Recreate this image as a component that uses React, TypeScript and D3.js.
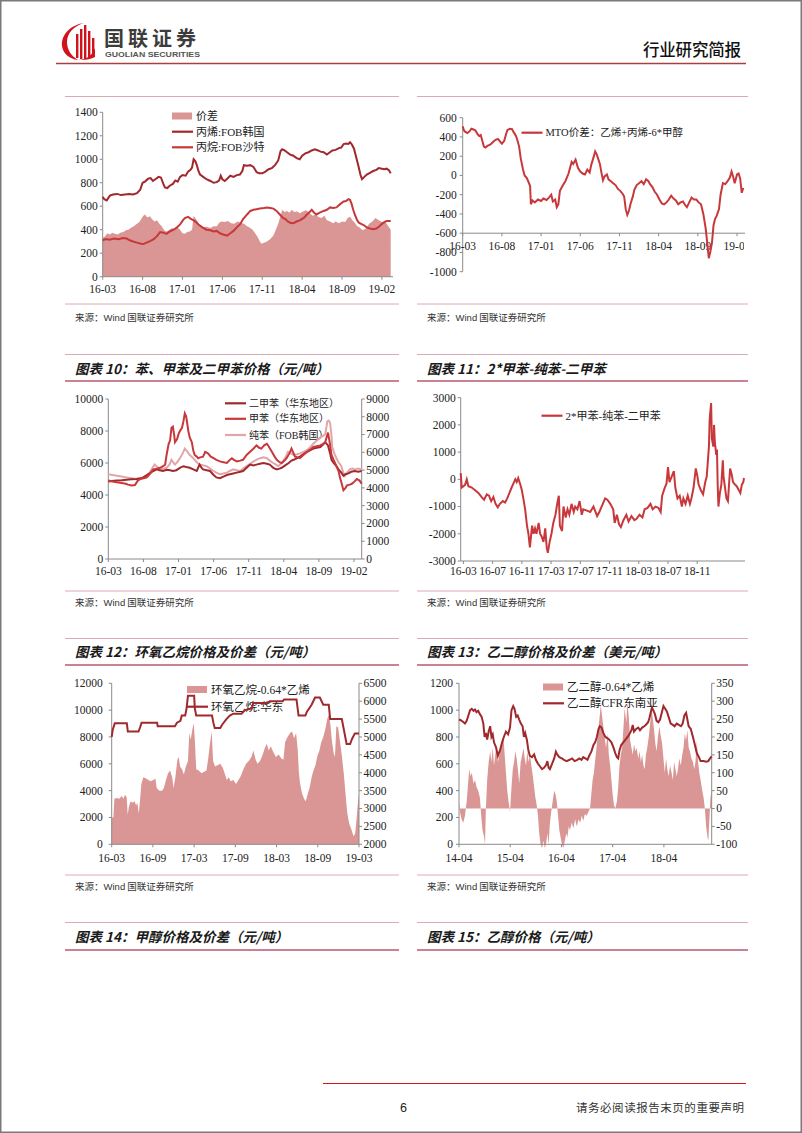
import React from 'react';
import * as d3 from 'd3';

type P = [number, number];

// ---------- Chart A: 丙烯/丙烷 (months since 16-03) ----------
const aLabels = ['16-03', '16-08', '17-01', '17-06', '17-11', '18-04', '18-09', '19-02'];
const aPropyleneKR: P[] = [[0,680],[0.2,660],[0.5,650],[0.9,690],[1.3,700],[1.8,705],[2.3,695],[2.8,700],[3.3,705],[3.8,700],[4.3,712],[4.7,740],[5.0,800],[5.3,810],[5.7,835],[6.0,840],[6.3,815],[6.6,830],[7.0,850],[7.3,845],[7.6,790],[7.8,760],[8.1,755],[8.4,775],[8.8,790],[9.1,820],[9.4,810],[9.7,850],[10.0,865],[10.4,860],[10.7,895],[11.0,910],[11.2,930],[11.4,1000],[11.6,985],[11.8,950],[12.0,900],[12.2,870],[12.6,850],[13.0,830],[13.5,815],[13.9,800],[14.3,805],[14.6,820],[14.8,860],[15.0,830],[15.3,815],[15.7,840],[16.0,860],[16.4,850],[16.8,865],[17.2,870],[17.5,900],[17.7,950],[18.1,945],[18.5,950],[18.9,935],[19.3,890],[19.6,880],[20.0,880],[20.4,895],[20.8,915],[21.2,925],[21.6,950],[22.0,990],[22.3,1070],[22.5,1085],[22.8,1075],[23.1,1060],[23.5,1040],[23.9,1030],[24.3,1010],[24.7,1000],[25.0,1030],[25.4,1050],[25.8,1060],[26.2,1075],[26.6,1085],[27.0,1075],[27.3,1065],[27.7,1060],[28.1,1040],[28.4,1055],[28.8,1075],[29.2,1080],[29.6,1095],[29.9,1100],[30.2,1130],[30.5,1135],[30.8,1130],[31.0,1145],[31.2,1130],[31.5,1090],[31.8,1010],[32.1,930],[32.3,870],[32.5,830],[32.8,850],[33.1,870],[33.5,885],[33.9,900],[34.3,910],[34.6,925],[35.0,920],[35.3,915],[35.6,920],[35.9,905],[36.1,880]];
const aPropaneSA: P[] = [[0,310],[0.4,320],[0.9,315],[1.4,325],[2.0,320],[2.5,330],[3.0,325],[3.4,310],[3.8,300],[4.3,290],[4.8,280],[5.1,278],[5.5,290],[6.0,305],[6.4,320],[6.8,345],[7.2,380],[7.6,375],[8.0,365],[8.4,385],[8.9,400],[9.3,420],[9.7,445],[10.0,475],[10.3,500],[10.7,510],[11.0,495],[11.4,480],[11.7,465],[12.0,445],[12.5,420],[13.0,400],[13.5,395],[13.9,385],[14.3,390],[14.7,370],[15.1,360],[15.6,350],[16.0,370],[16.4,390],[16.8,420],[17.2,445],[17.6,490],[18.1,530],[18.5,560],[18.9,570],[19.3,575],[19.7,580],[20.2,585],[20.6,590],[21.0,585],[21.4,580],[21.8,560],[22.2,530],[22.6,500],[22.9,490],[23.2,470],[23.5,460],[23.9,455],[24.3,470],[24.7,480],[25.2,500],[25.6,530],[26.0,555],[26.2,570],[26.5,545],[26.8,530],[27.2,545],[27.7,560],[28.1,570],[28.5,590],[28.9,585],[29.3,590],[29.8,620],[30.2,640],[30.5,645],[30.8,660],[31.0,655],[31.2,620],[31.4,570],[31.6,530],[31.9,480],[32.1,460],[32.4,450],[32.7,440],[33.1,420],[33.5,410],[33.9,405],[34.3,410],[34.7,430],[35.0,450],[35.3,465],[35.6,475],[36.1,475]];
const aSpread: P[] = [[0,330],[0.3,345],[0.6,370],[0.9,360],[1.2,375],[1.5,365],[1.9,360],[2.2,375],[2.6,380],[2.9,395],[3.2,400],[3.6,420],[3.9,430],[4.3,450],[4.6,465],[4.9,500],[5.1,520],[5.3,530],[5.6,505],[5.9,515],[6.2,490],[6.5,470],[6.8,480],[7.1,450],[7.4,430],[7.7,395],[8.0,385],[8.3,395],[8.7,415],[9.0,405],[9.4,420],[9.7,400],[10.0,370],[10.3,365],[10.6,380],[10.9,385],[11.2,400],[11.4,520],[11.6,500],[11.9,470],[12.2,430],[12.6,420],[13.0,425],[13.5,415],[13.9,430],[14.3,430],[14.6,460],[14.9,470],[15.3,465],[15.7,475],[16.1,455],[16.5,450],[16.9,470],[17.3,460],[17.7,450],[18.1,430],[18.4,420],[18.8,400],[19.1,370],[19.4,340],[19.7,300],[19.9,280],[20.2,290],[20.6,300],[21.0,320],[21.4,350],[21.7,400],[22.0,450],[22.3,520],[22.5,570],[22.8,550],[23.1,560],[23.4,545],[23.7,570],[24.0,550],[24.4,555],[24.7,540],[25.1,555],[25.5,565],[25.9,545],[26.3,520],[26.7,530],[27.0,510],[27.4,500],[27.8,520],[28.1,480],[28.5,470],[28.9,455],[29.2,470],[29.6,455],[30.0,470],[30.4,465],[30.7,500],[31.0,510],[31.3,480],[31.6,460],[31.9,430],[32.2,420],[32.6,395],[33.0,410],[33.4,450],[33.8,470],[34.2,500],[34.6,480],[35.0,465],[35.4,470],[35.8,430],[36.1,400]];

// ---------- Chart B: MTO 价差 ----------
const bLabels = ['16-03', '16-08', '17-01', '17-06', '17-11', '18-04', '18-09', '19-02'];
const bMto: P[] = [[0,510],[0.15,470],[0.3,455],[0.6,440],[0.9,460],[1.1,485],[1.3,480],[1.6,470],[1.9,430],[2.1,410],[2.3,420],[2.5,360],[2.7,300],[2.9,290],[3.2,310],[3.5,320],[3.9,350],[4.2,370],[4.5,380],[4.8,350],[5.0,330],[5.3,360],[5.5,420],[5.7,470],[6.0,485],[6.3,480],[6.5,450],[6.8,410],[7.0,360],[7.2,300],[7.4,180],[7.7,60],[7.9,0],[8.2,-30],[8.4,-70],[8.6,-110],[8.7,-300],[8.9,-260],[9.2,-280],[9.6,-250],[10.0,-265],[10.3,-240],[10.7,-255],[11.0,-230],[11.3,-200],[11.5,-270],[11.8,-250],[12.0,-330],[12.2,-300],[12.4,-160],[12.8,-100],[13.1,-60],[13.5,20],[13.7,80],[13.9,140],[14.1,120],[14.4,165],[14.7,80],[15.0,40],[15.3,20],[15.6,10],[15.9,60],[16.2,30],[16.4,110],[16.7,190],[16.9,250],[17.1,220],[17.3,170],[17.5,120],[17.7,30],[17.9,-50],[18.1,-10],[18.4,10],[18.6,-40],[18.9,-60],[19.2,-80],[19.5,-100],[19.8,-140],[20.1,-160],[20.4,-190],[20.6,-220],[20.8,-350],[21.0,-410],[21.2,-370],[21.4,-300],[21.7,-220],[21.9,-150],[22.2,-100],[22.5,-80],[22.8,-60],[23.1,-90],[23.4,-40],[23.7,-60],[23.9,-90],[24.2,-120],[24.5,-170],[24.8,-200],[25.1,-250],[25.4,-290],[25.7,-300],[26.0,-280],[26.3,-250],[26.6,-210],[26.9,-240],[27.2,-260],[27.5,-300],[27.8,-280],[28.1,-270],[28.4,-310],[28.6,-330],[28.9,-280],[29.2,-230],[29.5,-250],[29.8,-250],[30.1,-280],[30.4,-300],[30.7,-400],[31.0,-550],[31.2,-700],[31.4,-860],[31.6,-790],[31.8,-700],[32.0,-520],[32.2,-450],[32.4,-420],[32.7,-350],[32.9,-200],[33.2,-80],[33.5,-90],[33.8,-60],[34.1,-20],[34.3,40],[34.5,-10],[34.7,-80],[35.0,10],[35.2,20],[35.4,-30],[35.6,-180],[35.8,-130]];

// ---------- Chart C: 苯、甲苯、二甲苯 ----------
const cLabels = ['16-03', '16-08', '17-01', '17-06', '17-11', '18-04', '18-09', '19-02'];
const cXylene: P[] = [[0,4850],[0.5,4880],[1.2,4900],[1.9,4920],[2.6,4950],[3.3,4980],[4.0,5000],[4.6,5050],[5.0,5100],[5.5,5250],[5.9,5350],[6.4,5500],[6.9,5600],[7.3,5550],[7.8,5500],[8.3,5580],[8.8,5550],[9.2,5500],[9.7,5550],[10.2,5700],[10.7,5800],[11.1,5750],[11.6,5700],[12.1,5600],[12.6,5500],[13.0,5900],[13.3,5700],[13.5,5600],[14.0,5550],[14.5,5500],[15.0,5250],[15.4,5100],[15.9,5050],[16.4,5150],[16.9,5250],[17.3,5300],[17.8,5350],[18.3,5400],[18.8,5450],[19.2,5500],[19.7,5700],[20.2,5900],[20.7,5850],[21.1,5900],[21.6,5950],[22.1,6000],[22.6,5950],[23.0,5900],[23.5,5700],[24.0,5600],[24.4,5650],[24.7,5700],[25.2,5850],[25.7,6000],[26.1,6150],[26.4,6200],[26.9,6300],[27.3,6400],[27.8,6550],[28.3,6700],[28.8,6800],[29.2,6900],[29.7,6950],[30.2,7000],[30.6,7150],[30.9,7300],[31.1,7200],[31.3,7100],[31.6,6600],[31.8,6200],[32.1,6000],[32.5,5800],[32.8,5600],[33.2,5400],[33.5,5200],[33.8,5300],[34.2,5350],[34.6,5450],[35.1,5500],[35.6,5450],[36.1,5500]];
const cToluene: P[] = [[0,4900],[0.6,4850],[1.2,4800],[1.9,4750],[2.5,4700],[2.8,4650],[3.3,4600],[3.8,4620],[4.2,4900],[4.6,5000],[5.0,5050],[5.5,5100],[5.9,5300],[6.4,5600],[6.9,5650],[7.4,5700],[7.8,5800],[8.1,5900],[8.3,6500],[8.6,7200],[8.8,7400],[9.0,8200],[9.2,8270],[9.4,7700],[9.5,7300],[9.8,7500],[10.0,7800],[10.2,8000],[10.5,8200],[10.7,8600],[10.9,9100],[11.1,8900],[11.4,8000],[11.6,7600],[11.9,7300],[12.1,6800],[12.3,6500],[12.6,6400],[12.8,6300],[13.1,6350],[13.5,6400],[13.8,6700],[14.2,6600],[14.6,6400],[15.0,6300],[15.4,6200],[15.9,6100],[16.4,6050],[16.9,6000],[17.2,6150],[17.6,6300],[17.9,6200],[18.3,6100],[18.8,6150],[19.2,6200],[19.7,6500],[20.2,6700],[20.7,6900],[21.1,7100],[21.5,6950],[21.8,6900],[22.2,7100],[22.6,7200],[22.9,7000],[23.3,6700],[23.7,6400],[24.0,6200],[24.4,6050],[24.7,6000],[25.1,6150],[25.4,6300],[25.8,6600],[26.1,6900],[26.4,6600],[26.6,6400],[27.0,6350],[27.3,6300],[27.8,6500],[28.3,6700],[28.8,6850],[29.2,7000],[29.7,7050],[30.2,7100],[30.6,7200],[30.9,7300],[31.1,7600],[31.3,7900],[31.5,7400],[31.8,6500],[32.1,6200],[32.3,6000],[32.6,5700],[32.8,5500],[33.0,5100],[33.2,4800],[33.5,4300],[33.8,4450],[34.0,4600],[34.4,4650],[34.7,4700],[35.1,4850],[35.4,5000],[35.8,4900],[36.1,4700]];
const cBenzene: P[] = [[0,5300],[0.6,5250],[1.2,5200],[1.9,5150],[2.6,5100],[3.3,5050],[4.0,5000],[4.6,5050],[5.0,5100],[5.5,5250],[5.9,5400],[6.3,5700],[6.6,5900],[7.0,5750],[7.4,5600],[7.9,5650],[8.3,5700],[8.7,5900],[9.0,6200],[9.3,6000],[9.5,5900],[9.9,6100],[10.2,6300],[10.6,6600],[10.9,6900],[11.2,6750],[11.6,6500],[12.0,6350],[12.3,6200],[12.7,6000],[13.1,5900],[13.6,5850],[14.0,5800],[14.5,5650],[15.0,5500],[15.4,5400],[15.9,5300],[16.4,5350],[16.9,5400],[17.3,5500],[17.8,5600],[18.3,5550],[18.8,5500],[19.2,5650],[19.7,5800],[20.2,5950],[20.7,6100],[21.1,6200],[21.6,6300],[22.1,6350],[22.6,6300],[23.0,6150],[23.5,6000],[23.9,5900],[24.2,5800],[24.6,5950],[24.9,6100],[25.3,6400],[25.6,6700],[26.0,6600],[26.4,6500],[26.9,6550],[27.3,6600],[27.8,6700],[28.3,6800],[28.8,7000],[29.2,7200],[29.7,7400],[30.2,7600],[30.6,7700],[30.9,7800],[31.1,8300],[31.2,8600],[31.4,8650],[31.6,8500],[31.8,7700],[31.9,7000],[32.2,6600],[32.5,6300],[32.8,6050],[33.2,5800],[33.4,5500],[33.7,5200],[34.0,5400],[34.4,5600],[34.8,5650],[35.1,5600],[35.6,5650],[36.1,5600]];

// ---------- Chart D: 2*甲苯-纯苯-二甲苯 ----------
const dLabels = ['16-03', '16-07', '16-11', '17-03', '17-07', '17-11', '18-03', '18-07', '18-11'];
const dSpread: P[] = [[-0.37,230],[-0.23,-300],[0,-250],[0.23,-200],[0.46,0],[0.68,-250],[1.14,-300],[1.6,-400],[2.05,-500],[2.5,-650],[2.83,-750],[3.2,-550],[3.5,-600],[3.8,-800],[4.1,-650],[4.4,-900],[4.7,-1030],[5.0,-900],[5.4,-800],[5.7,-850],[6.0,-700],[6.3,-500],[6.6,-300],[6.85,-150],[7.1,0],[7.3,-100],[7.5,50],[7.8,-200],[8.0,-400],[8.2,-700],[8.45,-1100],[8.7,-1700],[8.9,-2000],[9.1,-2500],[9.4,-1700],[9.6,-2000],[9.8,-1800],[10.0,-2000],[10.3,-1600],[10.5,-2000],[10.7,-2100],[10.96,-2300],[11.2,-1800],[11.4,-2500],[11.55,-2700],[11.8,-2300],[12.05,-2000],[12.3,-1600],[12.6,-1300],[12.9,-800],[13.06,-600],[13.2,-1700],[13.5,-1900],[13.7,-1000],[14.0,-1400],[14.25,-1100],[14.5,-1300],[14.8,-900],[15.1,-1200],[15.3,-1000],[15.6,-1100],[15.9,-800],[16.2,-1300],[16.4,-1100],[16.9,-1150],[17.35,-1200],[17.8,-1000],[18.3,-1350],[18.6,-1200],[19.0,-950],[19.4,-700],[19.7,-750],[20.1,-900],[20.5,-1100],[20.7,-1600],[21.0,-1300],[21.3,-1650],[21.55,-1750],[21.9,-1500],[22.3,-1300],[22.6,-1550],[23.0,-1350],[23.4,-1500],[23.7,-1450],[24.1,-1300],[24.5,-1400],[24.8,-1100],[25.2,-1050],[25.6,-900],[25.9,-1100],[26.3,-1000],[26.7,-1050],[27.0,-1200],[27.2,-600],[27.5,-350],[27.8,-150],[28.0,450],[28.2,-100],[28.5,100],[28.8,300],[29.0,-300],[29.3,-700],[29.6,-600],[29.9,-1000],[30.1,-700],[30.4,-900],[30.7,-600],[31.0,-900],[31.2,-700],[31.5,-300],[31.8,400],[32.0,150],[32.2,-200],[32.5,-400],[32.8,-550],[33.1,-100],[33.3,100],[33.6,1200],[33.7,2200],[33.9,2800],[34.0,1500],[34.2,1200],[34.3,2000],[34.4,1400],[34.6,900],[34.7,1100],[34.8,-200],[34.9,-1000],[35.1,-500],[35.3,-200],[35.5,700],[35.6,100],[35.8,-300],[36.0,-700],[36.2,-800],[36.35,-200],[36.5,400],[36.7,200],[36.9,-100],[37.2,-200],[37.4,-250],[37.7,-400],[37.9,-500],[38.1,-200],[38.3,-100],[38.4,50]];

// ---------- Chart E: 环氧乙烷 ----------
const eLabels = ['16-03', '16-09', '17-03', '17-09', '18-03', '18-09', '19-03'];
const eSpread: P[] = [[0,2000],[0.24,2000],[0.39,3400],[0.73,3450],[1.1,3400],[1.46,3600],[1.7,3400],[1.94,3700],[2.18,3500],[2.33,2200],[2.5,2800],[2.77,3200],[3.06,3100],[3.35,3200],[3.54,2900],[3.74,3100],[3.93,2300],[4.13,3300],[4.32,4500],[4.6,5000],[5.0,4900],[5.34,4800],[5.68,4700],[6.07,4800],[6.36,4900],[6.55,4200],[6.94,4000],[7.33,4000],[7.6,4200],[7.9,4800],[8.2,5300],[8.5,5500],[8.8,5000],[9.0,4200],[9.27,5000],[9.56,6300],[9.76,6500],[9.95,5800],[10.24,5600],[10.5,5200],[10.8,5800],[11.1,6200],[11.3,8300],[11.5,7800],[11.75,8600],[11.94,9000],[12.1,7800],[12.3,5600],[12.67,5500],[13.06,5300],[13.45,5400],[13.8,5500],[14.08,6500],[14.3,7500],[14.56,8400],[14.76,6200],[15.05,5800],[15.4,5900],[15.8,6000],[16.17,5700],[16.5,5200],[16.75,4800],[17.04,5000],[17.3,4700],[17.7,4800],[18.1,4500],[18.45,4800],[18.8,5100],[19.17,5600],[19.56,6000],[19.95,6200],[20.34,6500],[20.63,7000],[20.9,6400],[21.2,6000],[21.6,6200],[21.99,6700],[22.3,7200],[22.57,7500],[22.86,7000],[23.16,7300],[23.5,6900],[23.9,6500],[24.3,6700],[24.7,6400],[25.0,6300],[25.24,7600],[25.6,8000],[25.97,8300],[26.26,8400],[26.55,7900],[26.84,8300],[27.09,7000],[27.23,5500],[27.4,4600],[27.7,3800],[28.0,3400],[28.25,3200],[28.5,3700],[28.8,4200],[29.1,5000],[29.37,5500],[29.66,5900],[29.95,6600],[30.24,7000],[30.5,7600],[30.8,8000],[31.1,8600],[31.4,9400],[31.65,9700],[31.84,8900],[32.04,7800],[32.3,6800],[32.5,6500],[32.7,8800],[32.96,8700],[33.25,7600],[33.5,6600],[33.8,5200],[34.08,3500],[34.3,2300],[34.6,1500],[34.9,1100],[35.2,600],[35.44,800],[35.63,1800],[35.83,3000],[36.0,3800]];
const ePrice: P[] = [[0,5000],[0.15,5200],[0.45,5380],[2.2,5380],[2.35,5150],[3.9,5150],[4.1,5250],[4.35,5400],[6.6,5400],[6.7,5300],[9.2,5300],[9.5,5400],[10.0,5450],[10.2,5600],[10.7,5600],[10.9,5800],[11.1,6150],[12.0,6150],[12.1,5800],[12.3,5600],[14.6,5600],[14.8,5400],[15.0,5250],[15.8,5250],[16.1,5350],[16.7,5500],[17.2,5600],[17.7,5650],[18.9,5650],[19.4,5750],[20.4,5800],[20.6,5950],[22.6,5950],[23.0,6000],[24.9,6000],[25.1,6050],[26.9,6050],[27.2,5600],[28.2,5600],[28.4,5700],[29.1,5900],[29.6,6100],[30.3,6100],[30.8,5900],[31.6,5900],[31.8,5500],[33.5,5500],[33.7,5300],[34.0,5000],[34.2,4800],[34.7,4800],[35.0,4950],[35.4,5100],[36,5100]];

// ---------- Chart F: 乙二醇 (months since 14-04) ----------
const fLabels = ['14-04', '15-04', '16-04', '17-04', '18-04'];
const fPrice: P[] = [[0,930],[0.4,925],[0.86,915],[1.4,900],[1.8,920],[2.2,960],[2.6,1000],[3.0,1010],[3.4,995],[3.75,1005],[4.1,985],[4.5,995],[4.9,970],[5.3,950],[5.7,900],[6.0,800],[6.3,830],[6.6,780],[6.95,840],[7.3,880],[7.6,800],[7.9,820],[8.2,760],[8.7,720],[9.1,660],[9.6,700],[10.1,760],[10.5,800],[11.0,840],[11.5,820],[11.95,870],[12.3,1000],[12.7,1030],[13.0,1010],[13.4,950],[13.75,960],[14.1,930],[14.5,900],[14.9,880],[15.2,800],[15.5,830],[15.9,780],[16.25,700],[16.6,660],[17.1,650],[17.6,670],[18.0,630],[18.5,600],[19.0,580],[19.45,560],[19.9,570],[20.4,590],[20.7,620],[21.0,570],[21.3,560],[21.8,600],[22.3,640],[22.7,690],[23.0,670],[23.5,650],[24.1,640],[24.6,630],[25.2,620],[25.9,630],[26.5,640],[27.1,620],[27.7,630],[28.2,640],[28.7,630],[29.1,650],[29.6,640],[30.1,630],[30.5,660],[31.0,690],[31.5,740],[31.9,760],[32.3,800],[32.7,860],[33.0,880],[33.4,870],[33.8,830],[34.3,800],[34.8,790],[35.2,780],[35.7,760],[36.2,720],[36.6,680],[37.0,650],[37.3,640],[37.6,700],[38.0,740],[38.5,760],[39.0,780],[39.5,800],[39.9,820],[40.4,850],[40.7,890],[41.0,840],[41.5,860],[42.0,870],[42.4,850],[42.9,870],[43.4,880],[43.8,890],[44.3,910],[44.6,940],[44.9,980],[45.2,1020],[45.5,1000],[45.9,970],[46.3,920],[46.7,910],[47.1,930],[47.5,980],[47.9,1030],[48.3,1010],[48.7,990],[49.1,950],[49.6,900],[50.1,890],[50.5,880],[51.0,900],[51.5,890],[52.0,880],[52.4,900],[52.8,960],[53.2,980],[53.5,930],[53.8,880],[54.3,860],[54.8,800],[55.2,750],[55.7,680],[56.2,650],[56.6,620],[57.3,620],[57.9,615],[58.4,620],[58.8,640],[59.2,655]];
const fSpread: P[] = [[0,20],[0.23,-10],[0.6,-30],[1.0,-40],[1.4,-20],[1.8,20],[2.2,80],[2.4,110],[2.7,90],[3.0,100],[3.4,70],[3.75,80],[4.1,60],[4.5,50],[4.9,30],[5.2,-20],[5.5,-60],[5.9,-80],[6.1,-100],[6.3,0],[6.6,80],[6.95,130],[7.3,160],[7.6,130],[7.9,170],[8.2,120],[8.5,150],[8.8,180],[9.1,130],[9.45,150],[9.8,170],[10.1,190],[10.4,200],[10.7,150],[11.0,100],[11.3,50],[11.6,20],[11.95,-10],[12.3,60],[12.6,110],[12.9,130],[13.2,160],[13.5,140],[13.8,110],[14.1,70],[14.45,130],[14.8,150],[15.1,170],[15.4,140],[15.7,120],[16.0,160],[16.3,130],[16.6,150],[16.95,120],[17.3,90],[17.6,60],[17.9,30],[18.2,10],[18.5,-20],[18.8,-70],[19.1,-100],[19.45,-110],[19.8,-90],[20.1,-110],[20.4,-100],[20.7,-70],[21.0,-100],[21.3,-40],[21.6,-10],[21.95,20],[22.3,50],[22.6,40],[22.9,20],[23.2,-20],[23.5,-60],[23.8,-80],[24.1,-100],[24.45,-110],[24.8,-90],[25.1,-70],[25.4,-80],[25.7,-50],[26.0,-60],[26.4,-40],[26.8,-55],[27.2,-30],[27.6,-50],[28.0,-30],[28.4,-40],[28.75,-20],[29.1,-35],[29.5,-15],[29.9,-20],[30.3,-10],[30.7,0],[31.0,40],[31.3,80],[31.6,100],[31.95,140],[32.3,180],[32.6,220],[32.9,250],[33.2,290],[33.5,260],[33.8,230],[34.1,200],[34.45,170],[34.8,210],[35.1,150],[35.4,120],[35.7,80],[36.0,40],[36.3,10],[36.6,0],[37.0,20],[37.3,60],[37.6,120],[37.9,150],[38.2,170],[38.5,220],[38.8,280],[39.2,240],[39.45,300],[39.8,250],[40.1,190],[40.4,170],[40.7,150],[41.0,180],[41.3,160],[41.6,170],[42.0,140],[42.3,160],[42.6,130],[42.9,150],[43.2,120],[43.5,110],[43.8,150],[44.1,170],[44.45,200],[44.8,240],[45.1,280],[45.4,250],[45.7,220],[46.0,180],[46.3,160],[46.6,200],[46.95,230],[47.3,200],[47.6,180],[47.9,140],[48.2,100],[48.5,140],[48.8,110],[49.1,90],[49.45,120],[49.8,100],[50.1,80],[50.4,130],[50.7,110],[51.0,90],[51.3,110],[51.6,140],[51.95,120],[52.3,150],[52.6,170],[52.9,210],[53.2,190],[53.5,220],[53.8,170],[54.1,160],[54.45,140],[54.8,130],[55.1,110],[55.4,130],[55.7,190],[56.0,130],[56.3,100],[56.6,80],[57.0,50],[57.3,30],[57.6,0],[57.9,-50],[58.2,-80],[58.4,-90],[58.7,-20],[58.9,30],[59.2,50]];

// ---------- styling ----------
const SERIF = "'Liberation Serif','Times New Roman','Noto Sans CJK SC',serif";
const CJK = "'Noto Sans CJK SC','Liberation Sans',sans-serif";
const SANS = "'Liberation Sans',Arial,'Noto Sans CJK SC',sans-serif";
const AXIS = '#8a8a8a';
const DARK = '#a0292d';
const RED = '#c8383b';
const PINK = '#e3a6a8';
const AREA = '#d99694';
const THIN = '#dcaab4';
const THICK = '#c98292';
const TICK_FS = 11.5;

const lineD = (data: P[], x: any, y: any) =>
  d3.line<P>().x(d => x(d[0])).y(d => y(d[1]))(data) || '';
const areaD = (data: P[], x: any, y: any, base: number) =>
  d3.area<P>().x(d => x(d[0])).y0(y(base)).y1(d => y(d[1]))(data) || '';

function YAxis({ scale, ticks, x, side, gap }: any) {
  const [r0, r1] = scale.range();
  const dir = side === 'left' ? -1 : 1;
  return (
    <g>
      <line x1={x} x2={x} y1={r0} y2={r1} stroke={AXIS} strokeWidth={1} />
      {ticks.map((t: number) => (
        <g key={t}>
          <line x1={x} x2={x + dir * 3} y1={scale(t)} y2={scale(t)} stroke={AXIS} />
          <text x={x + dir * gap} y={scale(t)} dy="0.34em" textAnchor={side === 'left' ? 'end' : 'start'}
            fontFamily={SERIF} fontSize={TICK_FS} fill="#222">{String(t)}</text>
        </g>
      ))}
    </g>
  );
}

function XAxis({ scale, ticks, labels, y, x0, x1, labelY, clipId }: any) {
  return (
    <g>
      <line x1={x0} x2={x1} y1={y} y2={y} stroke={AXIS} />
      {ticks.map((t: number, i: number) => (
        <line key={i} x1={scale(t)} x2={scale(t)} y1={y} y2={y + 3} stroke={AXIS} />
      ))}
      <g clipPath={clipId ? `url(#${clipId})` : undefined}>
        {ticks.map((t: number, i: number) => (
          <text key={i} x={scale(t)} y={labelY} textAnchor="middle" fontFamily={SERIF} fontSize={TICK_FS} fill="#222">{labels[i]}</text>
        ))}
      </g>
    </g>
  );
}

function Source({ x, y }: any) {
  return (
    <text x={x} y={y} fontFamily={CJK} fontSize={9.5} fill="#333">
      来源：<tspan fontFamily={SANS}>Wind</tspan> 国联证券研究所
    </text>
  );
}

function Title({ x, y, text }: any) {
  return (
    <text x={x} y={y} fontFamily={CJK} fontSize={13.5} fontWeight={700} fontStyle="italic" fill="#1a1a1a">{text}</text>
  );
}

function LegLine({ x, y, color, text, fs }: any) {
  return (
    <g>
      <line x1={x} x2={x + 21} y1={y} y2={y} stroke={color} strokeWidth={2.2} />
      <text x={x + 24} y={y} dy="0.36em" fontFamily={SERIF} fontSize={fs} fill="#222">{text}</text>
    </g>
  );
}
function LegRect({ x, y, text, fs }: any) {
  return (
    <g>
      <rect x={x} y={y - 3.5} width={20} height={7} fill={AREA} />
      <text x={x + 24} y={y} dy="0.36em" fontFamily={SERIF} fontSize={fs} fill="#222">{text}</text>
    </g>
  );
}

const range = (a: number, b: number, s: number) => d3.range(a, b + s / 2, s);

export default function App() {
  const xA = d3.scaleLinear().domain([0, 36.1]).range([102.7, 390.7]);
  const yA = d3.scaleLinear().domain([0, 1400]).range([276.7, 112.3]);
  const xB = d3.scaleLinear().domain([0, 35.8]).range([462.7, 743.3]);
  const yB = d3.scaleLinear().domain([-1000, 600]).range([271.7, 117.7]);
  const xC = d3.scaleLinear().domain([0, 36.1]).range([108.3, 361.7]);
  const yC = d3.scaleLinear().domain([0, 10000]).range([559, 399]);
  const yC2 = d3.scaleLinear().domain([0, 9000]).range([559, 399]);
  const xD = d3.scaleLinear().domain([-0.37, 38.4]).range([460.7, 744]);
  const yD = d3.scaleLinear().domain([-3000, 3000]).range([561, 397.7]);
  const xE = d3.scaleLinear().domain([0, 36]).range([111.7, 359]);
  const yE = d3.scaleLinear().domain([0, 12000]).range([844.3, 683.3]);
  const yE2 = d3.scaleLinear().domain([2000, 6500]).range([844.3, 683.3]);
  const xF = d3.scaleLinear().domain([0, 59.2]).range([459, 711.7]);
  const yF = d3.scaleLinear().domain([0, 1200]).range([844.3, 683.3]);
  const yF2 = d3.scaleLinear().domain([-100, 350]).range([844.3, 683.3]);

  const L = [65, 399];
  const R = [417, 748];

  return (
    <svg width={802} height={1133} style={{ position: 'absolute', left: 0, top: 0, background: '#fff' }}>
      <defs>
        <clipPath id="clipB"><rect x={440} y={236} width={304} height={20} /></clipPath>
      </defs>
      <rect x={0} y={0} width={802} height={1133} fill="#fff" />
      <rect x={0.75} y={0.75} width={800.5} height={1131.5} fill="none" stroke="#7a7a7a" strokeWidth={1.5} />

      {/* Header */}
      <g>
        <path d="M84,23 C70,25 61,35 62,46 C63,54 70,59 78,60 C71,56 67,49 67,42 C67,33 74,26 84,23 Z" fill="#d0121b" />
        <path d="M78,60 C86,60 93,55 95,48 L95,57 C91,59 85,60.5 78,60 Z" fill="#d0121b" />
        <rect x={76} y={34} width={2.4} height={24} fill="#d0121b" />
        <rect x={80} y={29} width={2.4} height={30} fill="#d0121b" />
        <rect x={84} y={25} width={2.4} height={34} fill="#d0121b" />
        <rect x={88} y={31} width={2.4} height={27} fill="#d0121b" />
        <rect x={92} y={38} width={2.4} height={18} fill="#d0121b" />
        <text x={104} y={46} fontFamily={CJK} fontSize={20} fontWeight={700} fill="#3c3c3c" letterSpacing={4}>国联证券</text>
        <text x={105} y={57} fontFamily={SANS} fontSize={6.3} fontWeight={700} fill="#555" textLength={95} lengthAdjust="spacingAndGlyphs">GUOLIAN SECURITIES</text>
        <text x={643} y={56} fontFamily={CJK} fontSize={16.5} fontWeight={500} fill="#111" textLength={98}>行业研究简报</text>
        <line x1={56} x2={746} y1={63.5} y2={63.5} stroke="#a8403f" strokeWidth={1.6} />
      </g>

      {/* Row separators */}
      {[L, R].map((p, i) => (
        <g key={i}>
          <line x1={p[0]} x2={p[1]} y1={96.5} y2={96.5} stroke={THIN} />
          <line x1={p[0]} x2={p[1]} y1={304} y2={304} stroke={THIN} />
          <line x1={p[0]} x2={p[1]} y1={354.5} y2={354.5} stroke={THIN} />
          <line x1={p[0]} x2={p[1]} y1={381} y2={381} stroke={THICK} strokeWidth={2} />
          <line x1={p[0]} x2={p[1]} y1={591} y2={591} stroke={THIN} />
          <line x1={p[0]} x2={p[1]} y1={638.5} y2={638.5} stroke={THIN} />
          <line x1={p[0]} x2={p[1]} y1={665} y2={665} stroke={THICK} strokeWidth={2} />
          <line x1={p[0]} x2={p[1]} y1={875} y2={875} stroke={THIN} />
          <line x1={p[0]} x2={p[1]} y1={922.5} y2={922.5} stroke={THIN} />
          <line x1={p[0]} x2={p[1]} y1={950} y2={950} stroke={THICK} strokeWidth={2} />
        </g>
      ))}
      <Source x={75} y={321} />
      <Source x={427} y={321} />
      <Source x={75} y={606} />
      <Source x={427} y={606} />
      <Source x={75} y={890} />
      <Source x={427} y={890} />
      <Title x={75} y={374} text="图表 10：苯、甲苯及二甲苯价格（元/吨）" />
      <Title x={427} y={374} text="图表 11：2*甲苯-纯苯-二甲苯" />
      <Title x={75} y={657} text="图表 12：环氧乙烷价格及价差（元/吨）" />
      <Title x={427} y={657} text="图表 13：乙二醇价格及价差（美元/吨）" />
      <Title x={75} y={942} text="图表 14：甲醇价格及价差（元/吨）" />
      <Title x={427} y={942} text="图表 15：乙醇价格（元/吨）" />

      {/* Chart A */}
      <g>
        <path d={areaD(aSpread, xA, yA, 0)} fill={AREA} />
        <YAxis scale={yA} ticks={range(0, 1400, 200)} x={102.7} side="left" gap={5} />
        <XAxis scale={xA} ticks={range(0, 35, 5)} labels={aLabels} y={276.7} x0={102.7} x1={393} labelY={293} />
        <LegRect x={172} y={116} text="价差" fs={11} />
        <LegLine x={172} y={131.7} color={DARK} text="丙烯:FOB韩国" fs={11} />
        <LegLine x={172} y={147.3} color={RED} text="丙烷:FOB沙特" fs={11} />
        <path d={lineD(aPropyleneKR, xA, yA)} fill="none" stroke={DARK} strokeWidth={2} />
        <path d={lineD(aPropaneSA, xA, yA)} fill="none" stroke={RED} strokeWidth={2} />
      </g>

      {/* Chart B */}
      <g>
        <YAxis scale={yB} ticks={range(-1000, 600, 200)} x={462.7} side="left" gap={6} />
        <XAxis scale={xB} ticks={range(0, 35, 5)} labels={bLabels} y={yB(-600)} x0={462.7} x1={745} labelY={250} clipId="clipB" />
        <LegLine x={521.5} y={132.7} color={RED} text="MTO价差：乙烯+丙烯-6*甲醇" fs={10.5} />
        <path d={lineD(bMto, xB, yB)} fill="none" stroke={RED} strokeWidth={2} />
      </g>

      {/* Chart C */}
      <g>
        <YAxis scale={yC} ticks={range(0, 10000, 2000)} x={108.3} side="left" gap={5} />
        <YAxis scale={yC2} ticks={range(0, 9000, 1000)} x={361.7} side="right" gap={4.5} />
        <XAxis scale={xC} ticks={range(0, 35, 5)} labels={cLabels} y={559} x0={108.3} x1={361.7} labelY={575} />
        <LegLine x={225} y={403.3} color={DARK} text="二甲苯（华东地区）" fs={10} />
        <LegLine x={225} y={418.8} color={RED} text="甲苯（华东地区）" fs={10} />
        <LegLine x={225} y={435} color={PINK} text="纯苯（FOB韩国）" fs={10} />
        <path d={lineD(cBenzene, xC, yC)} fill="none" stroke={PINK} strokeWidth={2} />
        <path d={lineD(cXylene, xC, yC)} fill="none" stroke={DARK} strokeWidth={2} />
        <path d={lineD(cToluene, xC, yC)} fill="none" stroke={RED} strokeWidth={2} />
      </g>

      {/* Chart D */}
      <g>
        <YAxis scale={yD} ticks={range(-3000, 3000, 1000)} x={460.7} side="left" gap={5} />
        <XAxis scale={xD} ticks={range(0, 32, 4)} labels={dLabels} y={561} x0={460.7} x1={745} labelY={575} />
        <LegLine x={541.5} y={415.7} color={RED} text="2*甲苯-纯苯-二甲苯" fs={11} />
        <path d={lineD(dSpread, xD, yD)} fill="none" stroke={RED} strokeWidth={2} />
      </g>

      {/* Chart E */}
      <g>
        <LegRect x={187} y={689.5} text="环氧乙烷-0.64*乙烯" fs={11.5} />
        <LegLine x={187} y={706.7} color={DARK} text="环氧乙烷:华东" fs={11.5} />
        <path d={areaD(eSpread, xE, yE, 0)} fill={AREA} />
        <YAxis scale={yE} ticks={range(0, 12000, 2000)} x={111.7} side="left" gap={9} />
        <YAxis scale={yE2} ticks={range(2000, 6500, 500)} x={359} side="right" gap={4.5} />
        <XAxis scale={xE} ticks={range(0, 36, 6)} labels={eLabels} y={844.3} x0={111.7} x1={359} labelY={862} />
        <path d={lineD(ePrice, xE, yE2)} fill="none" stroke={DARK} strokeWidth={2} />
      </g>

      {/* Chart F */}
      <g>
        <LegRect x={543} y={687} text="乙二醇-0.64*乙烯" fs={11.5} />
        <LegLine x={543} y={703.3} color={DARK} text="乙二醇CFR东南亚" fs={11.5} />
        <path d={areaD(fSpread, xF, yF2, 0)} fill={AREA} />
        <YAxis scale={yF} ticks={range(0, 1200, 200)} x={459} side="left" gap={6} />
        <YAxis scale={yF2} ticks={range(-100, 350, 50)} x={711.7} side="right" gap={4.5} />
        <XAxis scale={xF} ticks={range(0, 48, 12)} labels={fLabels} y={844.3} x0={459} x1={711.7} labelY={862} />
        <path d={lineD(fPrice, xF, yF)} fill="none" stroke={DARK} strokeWidth={2} />
      </g>

      {/* Footer */}
      <line x1={323} x2={746} y1={1083.5} y2={1083.5} stroke="#d4161c" strokeWidth={1} />
      <text x={400} y={1112} fontFamily={SANS} fontSize={12.5} fill="#222">6</text>
      <text x={576} y={1112} fontFamily={CJK} fontSize={11.5} fill="#333" textLength={168}>请务必阅读报告末页的重要声明</text>
    </svg>
  );
}
